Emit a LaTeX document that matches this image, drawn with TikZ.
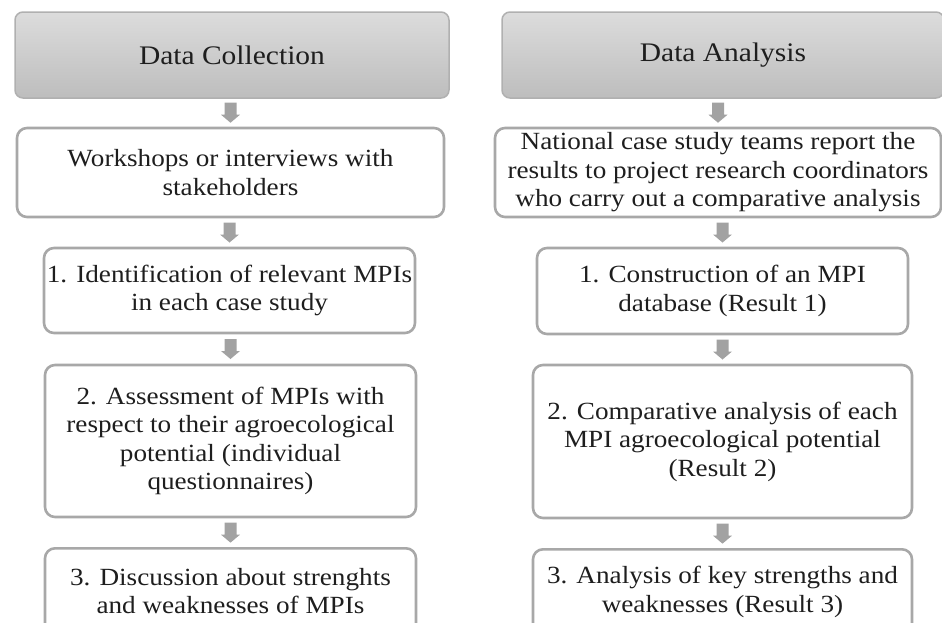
\documentclass[tikz,border=0pt]{standalone}
\usepackage{fontspec}
\setmainfont{Liberation Serif}[FakeStretch=1.1]
\usetikzlibrary{calc}

\definecolor{boxline}{HTML}{A8A8A8}
\definecolor{hdrtop}{HTML}{DCDCDC}
\definecolor{hdrbot}{HTML}{BDBDBD}
\definecolor{hdrline}{HTML}{B0B0B0}
\definecolor{arrowgray}{HTML}{A2A2A2}
\definecolor{ink}{HTML}{1E1E1E}

% thick grey block arrow centred in the gap between two nodes
\newcommand\blockarr[2]{%
  \fill[arrowgray] let \p1=(#1.south), \p2=(#2.north),
    \p3=($(\p1)!0.5!(\p2)$) in
    (\x2-6pt,\y3+10pt) -- (\x2+6pt,\y3+10pt) -- (\x2+6pt,\y3-2pt)
    -- (\x2+9.5pt,\y3-2pt) -- (\x2,\y3-10pt) -- (\x2-9.5pt,\y3-2pt)
    -- (\x2-6pt,\y3-2pt) -- cycle;}

\begin{document}
\begin{tikzpicture}[x=1pt,y=-1pt,
  every node/.style={text=ink, align=center, inner sep=0pt,
    font=\fontsize{24.7}{28.5}\selectfont},
  header/.style={rounded corners=8pt, draw=hdrline, line width=1.5pt,
    top color=hdrtop, bottom color=hdrbot,
    font=\fontsize{26.8}{30}\selectfont},
  stepbox/.style={rounded corners=10pt, draw=boxline, line width=2.6pt,
    fill=white}]
\useasboundingbox (0,0) rectangle (942,622);
\clip (0,0) rectangle (942,622);

% left column: data collection
\node[header, minimum width=434pt, minimum height=86pt] (hdrL) at (232,55) {Data Collection};
\node[stepbox, minimum width=427pt, minimum height=89pt] (w1) at (230.5,172.5)
  {Workshops or interviews with\\stakeholders};
\node[stepbox, minimum width=371pt, minimum height=85pt] (l1) at (229.5,290.5)
  {1. Identification of relevant MPIs\\in each case study};
\node[stepbox, minimum width=371pt, minimum height=152pt] (l2) at (230.5,441)
  {2. Assessment of MPIs with\\respect to their agroecological\\potential (individual\\questionnaires)};
\node[stepbox, minimum width=371pt, minimum height=85pt, anchor=north] (l3) at (230.5,547)
  {3. Discussion about strenghts\\and weaknesses of MPIs};

% right column: data analysis
\node[header, minimum width=442pt, minimum height=86pt] (hdrR) at (723,55) {Data Analysis};
\node[stepbox, minimum width=446pt, minimum height=89pt] (n1) at (718,172.5)
  {National case study teams report the\\results to project research coordinators\\who carry out a comparative analysis};
\node[stepbox, minimum width=371pt, minimum height=86pt] (r1) at (722.5,291)
  {1. Construction of an MPI\\database (Result 1)};
\node[stepbox, minimum width=379pt, minimum height=153pt] (r2) at (722.5,441.5)
  {2. Comparative analysis of each\\MPI agroecological potential\\(Result 2)};
\node[stepbox, minimum width=379pt, minimum height=85pt, anchor=north] (r3) at (722.5,548)
  {3. Analysis of key strengths and\\weaknesses (Result 3)};

% connectors
\blockarr{hdrL}{w1}
\blockarr{w1}{l1}
\blockarr{l1}{l2}
\blockarr{l2}{l3}
\blockarr{hdrR}{n1}
\blockarr{n1}{r1}
\blockarr{r1}{r2}
\blockarr{r2}{r3}
\end{tikzpicture}
\end{document}
